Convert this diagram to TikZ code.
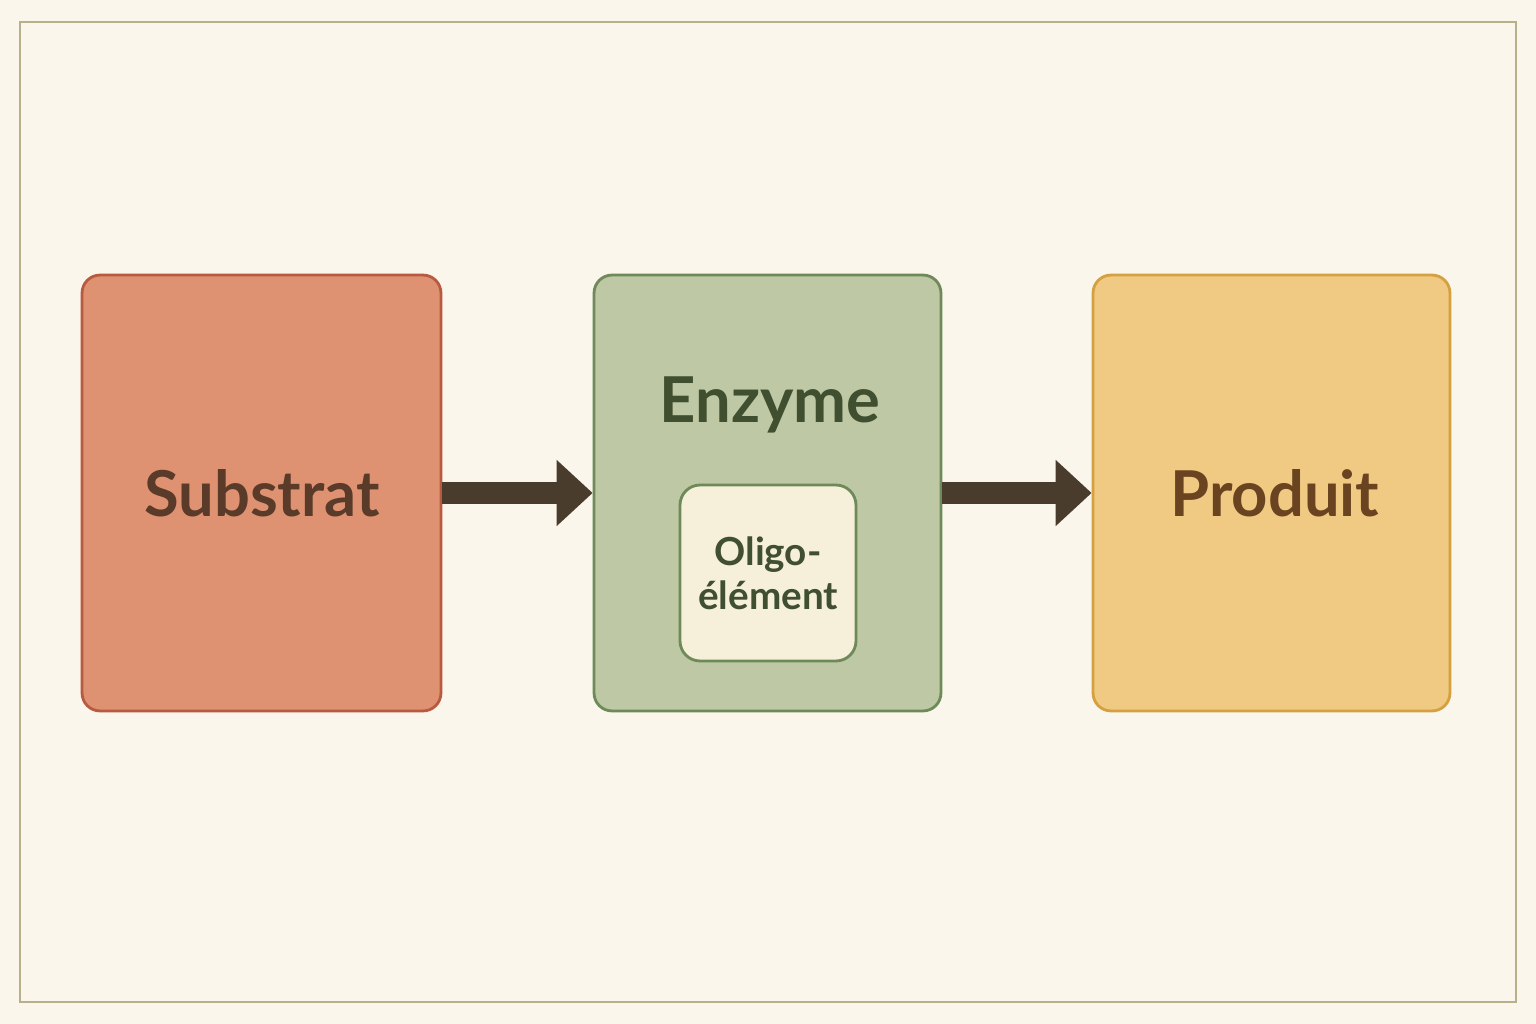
\documentclass[tikz,border=0pt]{standalone}
\usepackage{fontspec}
\setmainfont{Lato}
\usetikzlibrary{arrows.meta}
\definecolor{bg}{HTML}{FBF6EC}
\definecolor{frame}{HTML}{B8B08A}
\definecolor{subF}{HTML}{DE9272}\definecolor{subD}{HTML}{B85A40}
\definecolor{enzF}{HTML}{BEC8A4}\definecolor{enzD}{HTML}{6E8A58}
\definecolor{oliF}{HTML}{F6F0DA}
\definecolor{proF}{HTML}{F0C983}\definecolor{proD}{HTML}{D4A040}
\definecolor{arr}{HTML}{4A3C2C}
\begin{document}
\begin{tikzpicture}[x=0.02cm,y=-0.02cm,
  box/.style={rounded corners=0.36cm,line width=1.6pt,minimum width=#1},
  txt/.style={font=\bfseries\fontsize{36}{40}\selectfont},
  conn/.style={arr,line width=0.44cm,-{Triangle[length=0.72cm,width=1.28cm]}}]
\useasboundingbox (0,0) rectangle (1536,1024);
\fill[bg] (0,0) rectangle (1536,1024);
\draw[frame,line width=1.5pt] (20,22) rectangle (1516,1002);
\node[draw=subD,fill=subF,rounded corners=0.36cm,line width=1.6pt,minimum width=7.18cm,minimum height=8.72cm] (sub) at (261.5,493) {};
\node[txt,text=HTML5A3A28,color={rgb,255:red,90;green,58;blue,40}] at (262,493) {Substrat};
\node[draw=enzD,fill=enzF,rounded corners=0.36cm,line width=1.6pt,minimum width=6.94cm,minimum height=8.72cm] (enz) at (767.5,493) {};
\node[txt,color={rgb,255:red,63;green,79;blue,48}] (enzt) at (770,405) {Enzyme};
\node[draw=enzD,fill=oliF,rounded corners=0.4cm,line width=1.6pt,minimum width=3.52cm,minimum height=3.52cm] (oli) at (768,573) {};
\node[font=\bfseries\fontsize{22}{25}\selectfont,color={rgb,255:red,63;green,79;blue,48},align=center] (olit) at (768,573) {Oligo-\\élément};
\node[draw=proD,fill=proF,rounded corners=0.36cm,line width=1.6pt,minimum width=7.14cm,minimum height=8.72cm] (pro) at (1271.5,493) {};
\node[txt,color={rgb,255:red,106;green,68;blue,32}] at (1275,493) {Produit};
\draw[conn] (sub.east) -- (enz.west);
\draw[conn] (enz.east) -- (pro.west);
\end{tikzpicture}
\end{document}
